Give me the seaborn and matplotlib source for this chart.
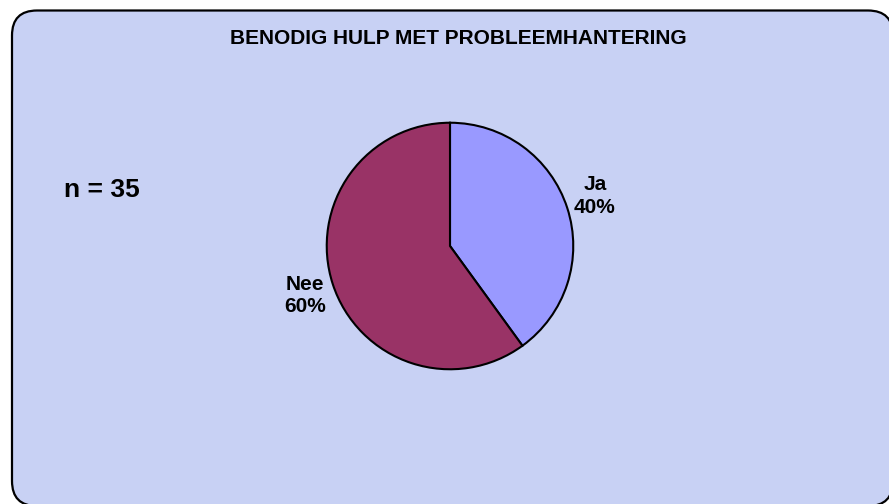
import matplotlib
matplotlib.use("Agg")
import matplotlib.pyplot as plt
import seaborn as sns
from matplotlib.patches import FancyBboxPatch

labels = ["Ja", "Nee"]
shares = [40, 60]
pie_colors = ["#9999FF", "#993366"]
title = "BENODIG HULP MET PROBLEEMHANTERING"
n_text = "n = 35"

sns.set_style("white")
plt.rcParams["font.family"] = ["Liberation Sans", "DejaVu Sans"]

W, H = 889, 504
fig = plt.figure(figsize=(W / 100, H / 100), dpi=100)
fig.patch.set_facecolor("white")

# rounded frame (runs off the right and bottom edge), sizes in inches
frame = FancyBboxPatch((0.12, -0.02), 8.81, 4.955,
                       boxstyle="round,pad=0,rounding_size=0.25",
                       transform=fig.dpi_scale_trans, facecolor="#C8D1F4",
                       edgecolor="black", linewidth=1.6, zorder=-5)
fig.patches.append(frame)

# pie axes placed by pixel centre/radius
cx, cy, r = 450, 246, 124.5
ax = fig.add_axes([(cx - r) / W, (H - cy - r) / H, 2 * r / W, 2 * r / H])
ax.set_zorder(5)
ax.pie(shares, colors=pie_colors, startangle=90, counterclock=False,
       wedgeprops=dict(edgecolor="black", linewidth=1.5))
ax.set_xlim(-1.01, 1.01)
ax.set_ylim(-1.01, 1.01)
ax.set_aspect("equal")
ax.axis("off")

fig.text(458 / W, 1 - 39 / H, title, ha="center", va="center",
         fontsize=15, fontweight="bold", color="black")
fig.text(102 / W, 1 - 190 / H, n_text, ha="center", va="center",
         fontsize=19, fontweight="bold", color="black")
fig.text(595 / W, 1 - 196 / H, f"{labels[0]}\n{shares[0]}%", ha="center",
         va="center", fontsize=15, fontweight="bold", linespacing=1.25,
         color="black")
fig.text(305 / W, 1 - 295.5 / H, f"{labels[1]}\n{shares[1]}%", ha="center",
         va="center", fontsize=15, fontweight="bold", linespacing=1.25,
         color="black")

fig.savefig("out.png", dpi=100)
